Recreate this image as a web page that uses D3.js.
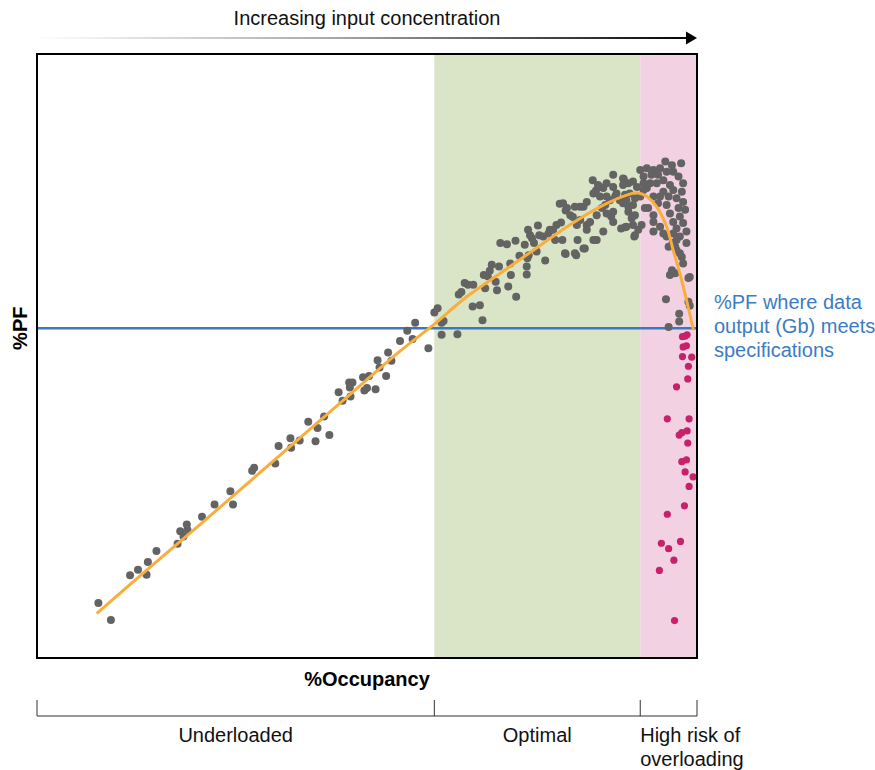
<!DOCTYPE html>
<html>
<head>
<meta charset="utf-8">
<script src="https://cdn.jsdelivr.net/npm/d3@7"></script>
<style>
  body { margin: 0; background: #fff; }
  text { font-family: "Liberation Sans", Arial, Helvetica, sans-serif; }
</style>
</head>
<body>
<div id="chart"></div>
<script>
// zone boundaries along %Occupancy (0-100) and their labels
const zoneBreaks = [0, 60.2, 91.4, 100];
const zoneLabels = [['Underloaded'], ['Optimal'], ['High risk of', 'overloading']];

// %PF level where data output meets spec
const pfThreshold = 54.6;
const thresholdLabel = ['%PF where data', 'output (Gb) meets', 'specifications'];

// observed runs [occupancy, pf]
const runs = [
  [9.3, 9.1], [11.2, 6.3], [14.1, 13.7], [15.3, 14.6], [16.6, 13.8], [16.8, 15.9], [18.1, 17.7],
  [21.3, 18.9], [21.7, 21.0], [22.2, 20.1], [22.7, 22.1], [22.8, 21.2], [25.0, 23.4], [26.9, 25.4],
  [29.3, 27.6], [29.7, 25.4], [32.6, 31.0], [32.9, 31.5], [36.1, 32.2], [36.6, 35.1], [38.4, 36.4],
  [38.5, 34.8], [39.8, 36.0], [41.1, 39.1], [42.2, 35.9], [42.5, 38.1], [43.5, 40.0], [44.3, 36.9],
  [45.7, 44.0], [46.3, 42.6], [47.3, 45.6], [47.8, 45.6], [47.4, 44.8], [47.5, 43.3], [49.4, 46.5],
  [49.6, 44.3], [50.0, 44.7], [50.3, 46.7], [51.3, 44.5], [51.6, 49.3], [51.9, 48.1], [52.9, 46.7],
  [53.2, 50.6], [53.7, 49.2], [55.0, 52.5], [56.1, 54.2], [56.9, 52.8], [57.3, 55.5], [59.3, 51.3],
  [60.2, 57.2], [60.7, 57.9], [61.3, 55.5], [61.6, 55.8], [61.3, 53.5], [63.7, 53.6], [66.0, 58.2],
  [67.1, 58.4], [67.5, 55.9], [63.9, 60.2], [64.3, 60.6], [64.8, 62.1], [65.3, 61.8], [66.1, 61.8],
  [67.7, 63.4], [68.3, 63.2], [68.6, 64.1], [68.9, 65.1], [70.0, 64.8], [69.5, 62.3], [67.9, 61.2],
  [69.7, 60.9], [71.4, 61.5], [72.6, 59.8], [71.8, 63.4], [71.7, 65.3], [73.1, 66.6], [74.2, 64.8],
  [74.2, 63.5], [74.3, 66.2], [74.5, 66.7], [70.2, 68.7], [71.2, 68.5], [72.5, 69.1], [73.9, 68.4],
  [74.4, 70.9], [75.9, 71.6], [75.0, 69.5], [75.3, 68.7], [76.1, 70.0], [75.7, 67.3], [77.0, 65.8],
  [76.7, 69.8], [77.5, 70.3], [78.2, 70.9], [78.5, 69.2], [78.7, 71.7], [79.6, 69.2], [80.1, 66.9],
  [79.4, 72.1], [79.2, 75.2], [80.1, 74.1], [74.7, 70.0], [77.7, 70.9], [81.7, 66.7], [83.0, 67.8],
  [81.9, 69.2], [83.3, 71.7], [80.3, 74.5], [81.2, 73.0], [82.3, 74.7], [84.2, 79.1], [84.8, 69.2],
  [84.7, 77.4], [85.3, 78.0], [86.1, 75.0], [86.3, 78.6], [87.3, 80.0], [87.6, 76.4], [87.0, 73.1],
  [87.3, 73.9], [88.5, 71.1], [89.1, 71.3], [90.3, 71.7], [90.5, 69.8], [88.9, 79.3], [89.6, 78.6],
  [90.3, 78.9], [90.9, 78.0], [91.6, 71.7], [79.7, 75.3], [80.8, 73.3], [81.8, 71.7], [82.3, 72.5],
  [83.3, 70.9], [83.8, 72.2], [84.8, 73.3], [85.6, 74.5], [86.3, 73.6], [87.3, 72.2], [90.1, 72.8],
  [89.6, 74.7], [88.6, 75.8], [87.8, 76.9], [86.8, 75.8], [86.3, 76.4], [85.3, 76.4], [84.3, 76.9],
  [83.3, 75.5], [82.8, 74.7], [81.5, 74.7], [85.8, 70.6], [84.3, 69.2], [82.8, 67.8], [81.5, 67.0],
  [80.0, 67.0], [88.8, 78.3], [89.8, 76.9], [90.6, 76.1], [91.4, 76.4], [89.3, 75.8], [87.3, 78.0],
  [85.8, 77.8], [85.0, 78.3], [95.2, 82.2], [96.2, 81.6], [97.6, 81.9], [94.4, 81.1], [93.4, 80.8],
  [92.4, 81.1], [91.4, 80.8], [91.9, 79.7], [93.1, 80.0], [94.1, 80.0], [95.4, 80.5], [96.4, 80.5],
  [97.2, 79.7], [97.9, 78.6], [97.7, 77.2], [96.9, 76.1], [97.9, 75.5], [97.2, 74.5], [98.2, 74.2],
  [97.4, 73.1], [97.9, 72.0], [96.4, 72.2], [96.9, 71.1], [98.4, 70.6], [97.4, 69.8], [95.9, 73.6],
  [95.4, 75.0], [94.1, 75.3], [93.4, 76.4], [92.4, 77.8], [92.9, 78.6], [93.9, 78.6], [94.9, 79.1],
  [95.9, 78.3], [96.4, 77.5], [94.9, 77.2], [94.4, 76.4], [95.7, 76.4], [93.4, 73.3], [93.4, 72.2],
  [92.6, 74.5], [92.1, 74.5], [94.4, 71.4], [94.9, 70.3], [89.1, 76.7], [88.8, 75.3], [90.3, 75.0],
  [89.6, 73.9], [90.6, 73.3], [89.3, 71.4], [91.1, 70.9], [88.8, 79.4], [88.3, 75.8], [91.9, 77.5],
  [91.9, 78.6], [90.6, 70.0], [93.4, 70.6], [95.4, 69.8], [96.4, 70.3], [98.4, 68.7], [96.9, 69.2],
  [95.7, 68.1], [96.7, 68.1], [97.4, 67.0], [97.7, 66.4], [97.9, 65.3], [96.2, 64.2], [95.9, 63.4],
  [96.7, 63.7], [98.9, 63.1], [98.7, 62.9], [95.3, 59.4], [98.7, 59.0], [98.9, 58.3], [97.3, 57.0],
  [97.3, 55.7], [95.7, 54.8], [96.3, 68.7], [96.9, 67.5]
];

// overloaded runs that fall below the spec line
const overloadRuns = [
  [97.8, 53.2], [98.5, 53.5], [98.2, 53.3], [97.9, 51.5], [98.4, 51.7], [97.8, 49.9], [99.2, 49.8],
  [98.7, 48.3], [98.6, 46.2], [96.9, 44.9], [95.5, 39.6], [98.8, 39.6], [97.3, 36.9], [97.7, 37.3],
  [98.5, 37.6], [98.6, 35.6], [97.7, 32.5], [98.4, 32.8], [98.2, 30.8], [99.4, 30.0], [98.8, 28.4],
  [98.1, 25.2], [95.5, 23.8], [94.6, 19.0], [95.7, 18.1], [97.5, 19.3], [96.5, 16.2], [94.3, 14.5],
  [96.6, 6.2]
];

// fitted trend
const trend = [
  [9.2, 7.5], [17.1, 15.0], [24.7, 22.1], [32.3, 29.3], [39.8, 36.4], [47.4, 43.6], [55.0, 50.8],
  [60.0, 55.1], [65.1, 59.8], [70.2, 63.7], [75.2, 67.5], [80.3, 71.4], [85.3, 74.7], [89.8, 76.8],
  [91.1, 77.0], [92.4, 76.4], [93.9, 74.7], [95.4, 71.4], [96.4, 67.5], [97.4, 63.7], [98.4, 59.3],
  [99.4, 54.6]
];

const config = {
  containerWidth: 875,
  containerHeight: 770,
  margin: { top: 54, right: 178, bottom: 112, left: 37 }
};
const width = config.containerWidth - config.margin.left - config.margin.right;
const height = config.containerHeight - config.margin.top - config.margin.bottom;
const fontSize = 20;

const xScale = d3.scaleLinear().domain([0, 100]).range([0, width]);
const yScale = d3.scaleLinear().domain([0, 100]).range([height, 0]);

const svg = d3.select('#chart').append('svg')
  .attr('width', config.containerWidth)
  .attr('height', config.containerHeight);

// arrow gradient
const defs = svg.append('defs');
const grad = defs.append('linearGradient')
  .attr('id', 'arrowGrad')
  .attr('gradientUnits', 'userSpaceOnUse')
  .attr('x1', config.margin.left).attr('x2', config.margin.left + width)
  .attr('y1', 0).attr('y2', 0);
grad.append('stop').attr('offset', 0).attr('stop-color', '#ffffff');
grad.append('stop').attr('offset', 0.45).attr('stop-color', '#a8a8a8');
grad.append('stop').attr('offset', 1).attr('stop-color', '#000000');

// top arrow + caption
svg.append('line')
  .attr('x1', config.margin.left).attr('x2', config.margin.left + width - 10)
  .attr('y1', 38).attr('y2', 38)
  .attr('stroke', 'url(#arrowGrad)')
  .attr('stroke-width', 2);
svg.append('path')
  .attr('d', `M${config.margin.left + width - 11},31.5 L${config.margin.left + width},38 L${config.margin.left + width - 11},44.5 Z`)
  .attr('fill', '#000');
svg.append('text')
  .attr('x', 367).attr('y', 25)
  .attr('text-anchor', 'middle')
  .attr('font-size', fontSize)
  .attr('fill', '#111')
  .text('Increasing input concentration');

const chart = svg.append('g')
  .attr('transform', `translate(${config.margin.left},${config.margin.top})`);

// zone backgrounds
const zoneFill = ['none', '#d9e5c6', '#f2d2e2'];
chart.selectAll('.zone')
  .data(zoneLabels)
  .join('rect')
  .attr('class', 'zone')
  .attr('x', (d, i) => xScale(zoneBreaks[i]))
  .attr('width', (d, i) => xScale(zoneBreaks[i + 1]) - xScale(zoneBreaks[i]))
  .attr('y', 0)
  .attr('height', height)
  .attr('fill', (d, i) => zoneFill[i]);

// threshold line
chart.append('line')
  .attr('x1', 0).attr('x2', width)
  .attr('y1', yScale(pfThreshold)).attr('y2', yScale(pfThreshold))
  .attr('stroke', '#3a78c0')
  .attr('stroke-width', 2.5);

// points
chart.append('g').selectAll('circle')
  .data(runs)
  .join('circle')
  .attr('cx', d => xScale(d[0]))
  .attr('cy', d => yScale(d[1]))
  .attr('r', 4)
  .attr('fill', '#636363');

chart.append('g').selectAll('circle')
  .data(overloadRuns)
  .join('circle')
  .attr('cx', d => xScale(d[0]))
  .attr('cy', d => yScale(d[1]))
  .attr('r', 3.6)
  .attr('fill', '#c8216c');

// trend line
const line = d3.line()
  .x(d => xScale(d[0]))
  .y(d => yScale(d[1]))
  .curve(d3.curveCatmullRom.alpha(0.5));
chart.append('path')
  .datum(trend)
  .attr('d', line)
  .attr('fill', 'none')
  .attr('stroke', '#f9ad3c')
  .attr('stroke-width', 3)
  .attr('stroke-linecap', 'round');

// frame
chart.append('rect')
  .attr('width', width).attr('height', height)
  .attr('fill', 'none')
  .attr('stroke', '#000')
  .attr('stroke-width', 2);

// threshold label
svg.append('text')
  .attr('x', 714)
  .attr('y', config.margin.top + yScale(pfThreshold) - 19)
  .attr('font-size', fontSize)
  .attr('fill', '#3b7cc4')
  .selectAll('tspan')
  .data(thresholdLabel)
  .join('tspan')
  .attr('x', 714)
  .attr('dy', (d, i) => i === 0 ? 0 : 24)
  .text(d => d);

// axis titles
svg.append('text')
  .attr('x', config.margin.left + width / 2).attr('y', 686)
  .attr('text-anchor', 'middle')
  .attr('font-size', fontSize)
  .attr('font-weight', 'bold')
  .text('%Occupancy');

svg.append('text')
  .attr('transform', `translate(27,${config.margin.top + yScale(pfThreshold)}) rotate(-90)`)
  .attr('text-anchor', 'middle')
  .attr('font-size', fontSize)
  .attr('font-weight', 'bold')
  .text('%PF');

// zone bracket under the chart
const bracket = svg.append('g')
  .attr('transform', `translate(${config.margin.left},716)`);
bracket.append('line')
  .attr('x1', 0).attr('x2', width)
  .attr('stroke', '#333').attr('stroke-width', 1);
bracket.selectAll('.tick-mark')
  .data(zoneBreaks)
  .join('line')
  .attr('class', 'tick-mark')
  .attr('x1', d => xScale(d)).attr('x2', d => xScale(d))
  .attr('y1', -16).attr('y2', 0)
  .attr('stroke', '#333').attr('stroke-width', 1);

bracket.selectAll('.zone-label')
  .data(zoneLabels)
  .join('text')
  .attr('class', 'zone-label')
  .attr('font-size', fontSize)
  .attr('fill', '#111')
  .attr('text-anchor', (d, i) => i === 2 ? 'start' : 'middle')
  .attr('x', (d, i) => i === 2 ? xScale(zoneBreaks[i]) : (xScale(zoneBreaks[i]) + xScale(zoneBreaks[i + 1])) / 2)
  .attr('y', 26)
  .each(function (d, i) {
    const x = d3.select(this).attr('x');
    d3.select(this).selectAll('tspan')
      .data(d)
      .join('tspan')
      .attr('x', x)
      .attr('dy', (t, j) => j === 0 ? 0 : 24)
      .text(t => t);
  });
</script>
</body>
</html>
